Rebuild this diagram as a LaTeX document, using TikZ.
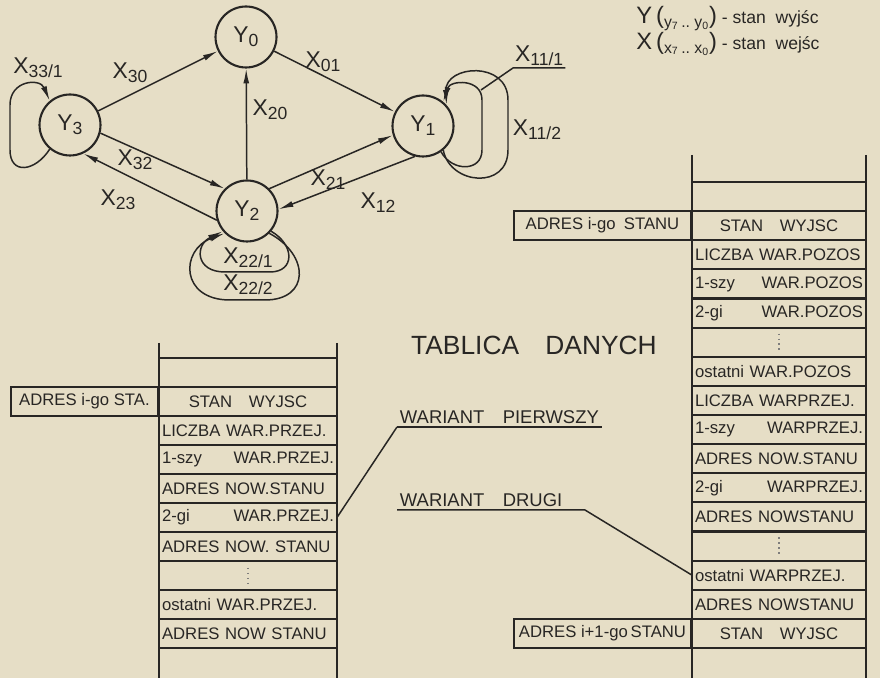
\documentclass[tikz,border=0pt]{standalone}
\usepackage{fontspec}
\setmainfont{Liberation Sans}
\usetikzlibrary{arrows.meta}

\definecolor{paper}{RGB}{230,222,198}
\definecolor{ink}{RGB}{40,38,36}
\newcommand{\xs}[2]{#1\raisebox{-0.35ex}{\fontsize{10}{10}\selectfont #2}}
\newcommand{\legline}[3]{{\fontsize{13.5}{13.5}\selectfont #1\,(}\raisebox{-0.4ex}{\fontsize{9}{9}\selectfont #2\textsubscript{7}\,..\;#2\textsubscript{0}}{\fontsize{13.5}{13.5}\selectfont )}\ - stan\ \ #3}

\tikzset{
  state/.style={circle,draw=ink,line width=1.2pt,minimum size=1.22cm,inner sep=0pt,
    text=ink,font=\fontsize{13}{13}\selectfont},
  arr/.style={draw=ink,line width=0.85pt,-{Latex[length=8.5pt,width=3.4pt]}},
  loopln/.style={draw=ink,line width=0.85pt},
  lab/.style={font=\fontsize{13}{13}\selectfont,text=ink,inner sep=1pt},
  tab/.style={draw=ink,line width=1.2pt},
  cellL/.style={text width=3.44cm,inner xsep=1.5pt,inner ysep=0pt,minimum height=0.58cm,
    font=\fontsize{9.5}{11}\selectfont,text=ink},
  cellR/.style={cellL,text width=3.36cm},
  adrbox/.style={draw=ink,line width=1.2pt,minimum height=0.58cm,inner xsep=2pt,
    font=\fontsize{9.5}{11}\selectfont,text=ink,anchor=east},
  varlab/.style={font=\fontsize{10.5}{12}\selectfont,text=ink,inner sep=1.5pt,anchor=south west},
  dots/.style={draw=ink!60,line width=0.8pt,dotted}
}

\begin{document}
\begin{tikzpicture}[x=0.02cm,y=-0.02cm]
  \useasboundingbox (0,0) rectangle (880,678);
  \fill[paper] (0,0) rectangle (880,678);

  % states
  \node[state] (Y0) at (246,37) {\xs{Y}{0}};
  \node[state] (Y1) at (423,126) {\xs{Y}{1}};
  \node[state] (Y2) at (247,211) {\xs{Y}{2}};
  \node[state] (Y3) at (70,125) {\xs{Y}{3}};

  % transitions
  \draw[arr] (Y3) -- (Y0);
  \draw[arr] (Y0) -- (Y1);
  \draw[arr] (Y2) -- (Y0);
  \draw[arr] (Y3.-15) -- (Y2.135);
  \draw[arr] (Y2.197) -- (Y3.-65);
  \draw[arr] (Y2.45) -- (Y1.197);
  \draw[arr] (Y1.-105) -- (Y2.3);

  % loops
  \draw[arr] (Y3.-130) .. controls (35,172) and (10,175) .. (10,150)
    -- (10,105) .. controls (10,80) and (40,78) .. (Y3.130);
  \draw[arr] (Y1.-55) .. controls (452,172) and (482,172) .. (482,150)
    -- (482,100) .. controls (482,78) and (450,80) .. (Y1.50);
  \draw[arr] (Y1.-50) .. controls (450,185) and (508,190) .. (508,150)
    -- (508,100) .. controls (508,60) and (445,65) .. (Y1.42);
  \draw[arr] (Y2.-40) .. controls (295,245) and (295,272) .. (270,272)
    -- (225,272) .. controls (195,272) and (195,245) .. (Y2.-140);
  \draw[arr] (Y2.-45) .. controls (310,255) and (310,300) .. (265,300)
    -- (230,300) .. controls (180,300) and (180,250) .. (Y2.-135);

  % labels
  \node[lab] at (38,68) {\xs{X}{33/1}};
  \node[lab] at (130,73) {\xs{X}{30}};
  \node[lab] at (323,62) {\xs{X}{01}};
  \node[lab] at (270,110) {\xs{X}{20}};
  \node[lab] at (135,160) {\xs{X}{32}};
  \node[lab] at (118,200) {\xs{X}{23}};
  \node[lab] at (328,180) {\xs{X}{21}};
  \node[lab] at (378,203) {\xs{X}{12}};
  \node[lab] at (537,130) {\xs{X}{11/2}};
  \node[lab] at (248,258) {\xs{X}{22/1}};
  \node[lab] at (248,285) {\xs{X}{22/2}};
  \node[lab,anchor=south west] (x11a) at (513,68) {\xs{X}{11/1}};
  \coordinate (k11) at (481,90);
  \draw[loopln] (k11) -- (x11a.south west) -- (x11a.south east);

  % legend
  \node[anchor=north west,text=ink,inner sep=0pt,align=left,font=\fontsize{10}{11}\selectfont] (leg) at (636,6)
    {\legline{Y}{y}{wyjśc}\\\legline{X}{x}{wejśc}};

  \node[text=ink,font=\fontsize{15}{16}\selectfont] (tab) at (534,345) {TABLICA\quad DANYCH};

  % left table
  \draw[tab] (159,343) -- (159,678);
  \draw[tab] (337,343) -- (337,678);
  \foreach \k in {0,...,10}
    \draw[tab] (159,358+29*\k) -- (337,358+29*\k);
  \foreach \t [count=\i] in {{\hfill STAN\quad WYJSC\hfill\null},LICZBA WAR.PRZEJ.,1-szy\hfill WAR.PRZEJ.,
      ADRES NOW.STANU,2-gi\hfill WAR.PRZEJ.,ADRES NOW. STANU,{},ostatni WAR.PRZEJ.,ADRES NOW STANU}
    \node[cellL] (L\i) at (248,{358+29*\i+14.5}) {\t};
  \draw[dots] (248,568) -- (248,584);
  \node[adrbox,minimum width=2.94cm] (adrL) at (159,401.5) {ADRES i-go STA.};

  % right table
  \draw[tab] (692,155) -- (692,678);
  \draw[tab] (866,155) -- (866,678);
  \foreach \k in {0,...,16}
    \draw[tab] (692,{182+29.125*\k}) -- (866,{182+29.125*\k});
  \foreach \t [count=\i] in {{\hfill STAN\quad WYJSC\hfill\null},LICZBA WAR.POZOS,1-szy\hfill WAR.POZOS,
      2-gi\hfill WAR.POZOS,{},ostatni WAR.POZOS,LICZBA WARPRZEJ.,1-szy\hfill WARPRZEJ.,
      ADRES NOW.STANU,2-gi\hfill WARPRZEJ.,ADRES NOWSTANU,{},ostatni WARPRZEJ.,
      ADRES NOWSTANU,{\hfill STAN\quad WYJSC\hfill\null}}
    \node[cellR] (R\i) at (779,{182+29.125*\i+14.56}) {\t};
  \draw[dots] (779,{182+29.125*5+6}) -- (779,{182+29.125*6-6});
  \draw[dots] (779,{182+29.125*12+6}) -- (779,{182+29.125*13-6});
  \node[adrbox,minimum width=3.54cm] (adrR1) at (692,{182+29.125*1.5}) {ADRES i-go\enspace STANU};
  \node[adrbox,minimum width=3.54cm] (adrR2) at (692,{182+29.125*15.5}) {ADRES i+1-go\,STANU};

  % variants
  \node[varlab] (wp) at (397,427) {WARIANT\quad PIERWSZY};
  \draw[loopln] (wp.south west) -- (wp.south east);
  \draw[loopln] (wp.south west) -- (L5.east);
  \node[varlab] (wd) at (397,510) {WARIANT\quad DRUGI};
  \coordinate (wdEnd) at (585,510);
  \draw[loopln] (wd.south west) -- (wdEnd) -- (R13.west);
\end{tikzpicture}
\end{document}
